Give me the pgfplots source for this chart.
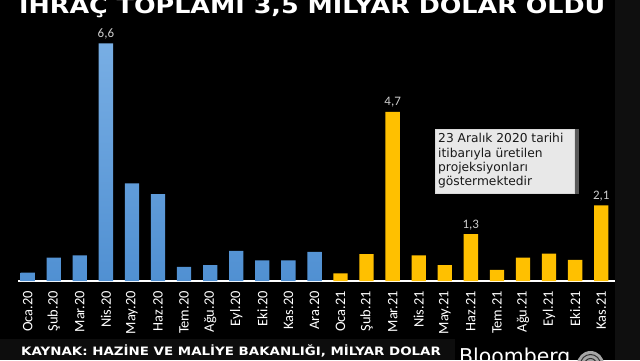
\documentclass[border=0pt]{standalone}
\usepackage{pgfplots}
\pgfplotsset{compat=1.18}
\usepackage{fontspec}
\setmainfont{Carlito}
\newfontfamily\dejavu{DejaVu Sans}
\newfontfamily\vbold{DejaVu Sans}[FakeStretch=1.16]
\definecolor{bluetop}{RGB}{120,174,228}
\definecolor{bluebot}{RGB}{80,144,210}
\definecolor{gold}{RGB}{255,192,0}
\definecolor{vlab}{RGB}{205,205,205}
\definecolor{boxfill}{RGB}{232,232,232}
\begin{document}
\begin{tikzpicture}[x=1bp,y=1bp]
\useasboundingbox (0,0) rectangle (640,360);
\clip (0,0) rectangle (640,360);
\fill[black] (0,0) rectangle (640,360);
\fill[black!94!white] (615,0) rectangle (640,360);
\fill[black!95!white] (0,0) rectangle (455,21);
\begin{axis}[
  at={(18.3bp,79bp)}, anchor=south west,
  scale only axis, width=596.7bp, height=252bp,
  xmin=-0.36, xmax=22.53, ymin=0, ymax=7,
  axis x line*=bottom, axis y line=none,
  x axis line style={white, line width=1.6bp},
  xtick={0,...,22},
  xticklabels={Oca.20,Şub.20,Mar.20,Nis.20,May.20,Haz.20,Tem.20,Ağu.20,Eyl.20,Eki.20,Kas.20,Ara.20,Oca.21,Şub.21,Mar.21,Nis.21,May.21,Haz.21,Tem.21,Ağu.21,Eyl.21,Eki.21,Kas.21},
  major tick length=0pt,
  x tick label style={rotate=90, anchor=east, inner sep=0pt, xshift=-10bp, font=\fontsize{14.5}{15}\selectfont, text=white},
  ytick=\empty,
  ybar, bar width=14.3bp,
  clip=false,
]
\addplot[draw=none, top color=bluetop, bottom color=bluebot, bar shift=0pt] coordinates {
 (0,0.23) (1,0.65) (2,0.71) (3,6.6) (4,2.71) (5,2.41) (6,0.39) (7,0.44) (8,0.84) (9,0.57) (10,0.57) (11,0.81)};
\addplot[draw=none, fill=gold, bar shift=0pt] coordinates {
 (12,0.21) (13,0.75) (14,4.7) (15,0.71) (16,0.44) (17,1.3) (18,0.31) (19,0.65) (20,0.76) (21,0.59) (22,2.1)};
\node[anchor=base, yshift=6bp, inner sep=0pt, text=vlab, font=\fontsize{13}{15}\selectfont] at (axis cs:3,6.6) {6,6};
\node[anchor=base, yshift=6bp, inner sep=0pt, text=vlab, font=\fontsize{13}{15}\selectfont] at (axis cs:14,4.7) {4,7};
\node[anchor=base, yshift=6bp, inner sep=0pt, text=vlab, font=\fontsize{13}{15}\selectfont] at (axis cs:17,1.3) {1,3};
\node[anchor=base, yshift=6bp, inner sep=0pt, text=vlab, font=\fontsize{13}{15}\selectfont] at (axis cs:22,2.1) {2,1};
\end{axis}
% annotation box
\fill[black!65] (435,166) rectangle (579,230.7);
\fill[boxfill] (435,166) rectangle (575,230.7);
\draw[white!85!black, line width=0.6bp] (435.3,166.3) rectangle (574.7,230.4);
\begin{scope}[every node/.style={anchor=base west, inner sep=0pt, text=black!90, font=\dejavu\fontsize{12.3}{14}\selectfont}]
\node at (438,217.3) {23 Aralık 2020 tarihi};
\node at (438,202.9) {itibarıyla üretilen};
\node at (438,188.6) {projeksiyonları};
\node at (438,174.2) {göstermektedir};
\end{scope}
% title
\node[anchor=base west, inner sep=0pt, text=white, font=\vbold\bfseries\fontsize{22}{26}\selectfont] at (19,346.5) {İHRAÇ TOPLAMI 3,5 MİLYAR DOLAR OLDU};
% source
\node[anchor=base west, inner sep=0pt, text=white, font=\vbold\bfseries\fontsize{11.6}{14}\selectfont] at (21,4.3) {KAYNAK: HAZİNE VE MALİYE BAKANLIĞI, MİLYAR DOLAR};
% Bloomberg
\node[anchor=base west, inner sep=0pt, text=white, font=\dejavu\fontsize{20.5}{24}\selectfont] at (459,-3) {Bloomberg};
\fill[gray!70] (590.5,-4.5) circle (13.5);
\draw[black!80, line width=1bp] (590.5,-4.5) circle (10);
\draw[black!80, line width=1bp] (590.5,-4.5) circle (6);
\end{tikzpicture}
\end{document}
